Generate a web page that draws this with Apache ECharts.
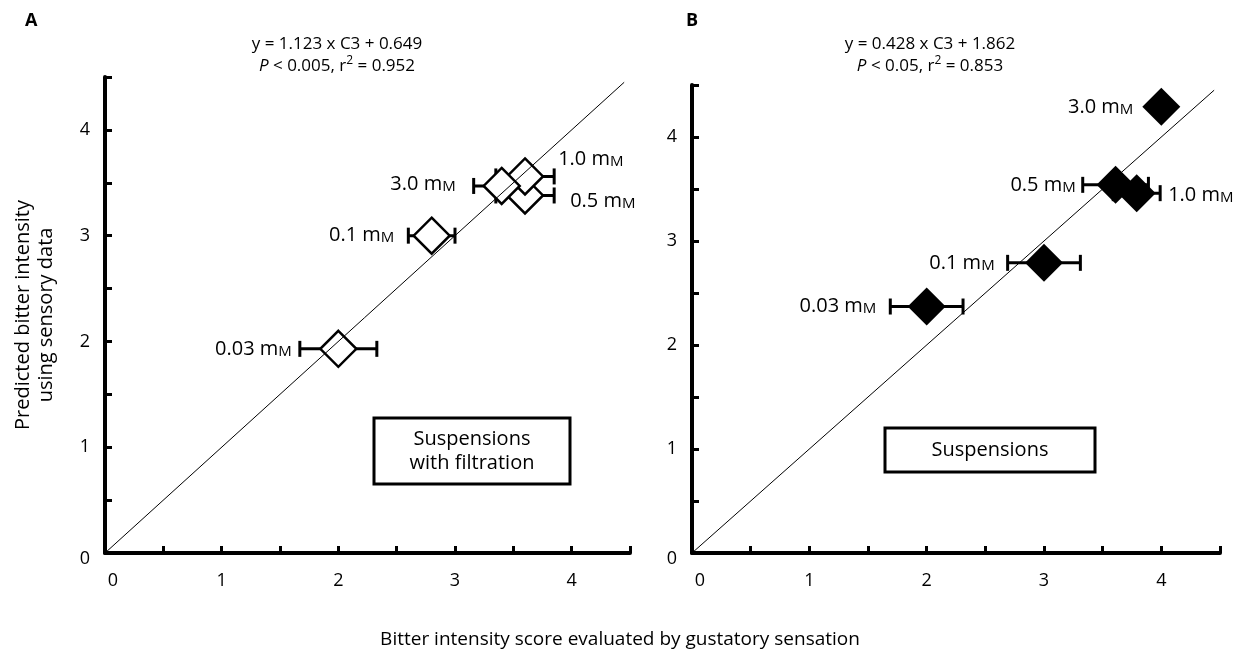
<!DOCTYPE html>
<html>
<head>
<meta charset="utf-8">
<script src="https://cdn.jsdelivr.net/npm/echarts@6.0.0/dist/echarts.min.js"></script>
<style>
  html, body { margin: 0; padding: 0; background: #fff; }
  #main { width: 1238px; height: 651px; }
</style>
</head>
<body>
<div id="main"></div>
<script>
// concentrations (labels of the points)
var concLabels = ['0.03', '0.1', '0.5', '1.0', '3.0'];

// panel A: suspensions with filtration (open diamonds)
var filtX = [2.0, 2.8, 3.6, 3.6, 3.4];
var filtY = [1.93, 3.0, 3.38, 3.56, 3.47];
var filtErr = [0.33, 0.2, 0.25, 0.25, 0.24];

// panel B: suspensions (filled diamonds)
var suspX = [2.0, 3.0, 3.61, 3.79, 4.0];
var suspY = [2.37, 2.79, 3.54, 3.46, 4.29];
var suspErr = [0.31, 0.31, 0.28, 0.2, 0];

// y = x reference line
var refLine = [0, 4.45];
var tickLabels = [0, 1, 2, 3, 4];

var FONT = '"Open Sans", "Noto Sans", sans-serif';

// where each point label sits (side of the error bar, gap, shift)
var placeA = [
  { side: 'left', gap: 8, dy: 0 },
  { side: 'left', gap: 14, dy: 0 },
  { side: 'right', gap: 16, dy: 6 },
  { side: 'right', gap: 4, dy: -17 },
  { side: 'left', gap: 18, dy: -2 }
];
var placeB = [
  { side: 'left', gap: 14, dy: 0 },
  { side: 'left', gap: 13, dy: 0 },
  { side: 'left', gap: 7, dy: 0 },
  { side: 'right', gap: 8, dy: 2 },
  { side: 'left', gap: 28, dy: 0 }
];

var chartDom = document.getElementById('main');
var myChart = echarts.init(chartDom);

function makeAxis(idx, isX) {
  return {
    gridIndex: idx,
    type: 'value',
    min: 0,
    max: 4.5,
    interval: 0.5,
    axisLine: { lineStyle: { color: '#000', width: 4 } },
    axisTick: { inside: true, length: 7, lineStyle: { color: '#000', width: 3 } },
    splitLine: { show: false },
    axisLabel: {
      color: '#000',
      fontSize: 18,
      fontFamily: FONT,
      margin: isX ? 19 : 15,
      formatter: function (v) {
        if (tickLabels.indexOf(v) < 0) return '';
        return v === 0 ? '{z|0}' : String(v);
      },
      rich: {
        // the zero labels sit a bit off the corner
        z: isX ? { fontSize: 18, fontFamily: FONT, color: '#000', padding: [0, 0, 0, 16] }
               : { fontSize: 18, fontFamily: FONT, color: '#000', padding: [12, 0, 0, 0] }
      }
    }
  };
}

function errRender(params, api) {
  var x = api.value(0), y = api.value(1), e = api.value(2);
  if (!e) return null;
  var l = api.coord([x - e, y]);
  var r = api.coord([x + e, y]);
  var h = 8;
  var st = { stroke: '#000', lineWidth: 3 };
  return {
    type: 'group',
    children: [
      { type: 'line', shape: { x1: l[0], y1: l[1], x2: r[0], y2: r[1] }, style: st },
      { type: 'line', shape: { x1: l[0], y1: l[1] - h, x2: l[0], y2: l[1] + h }, style: st },
      { type: 'line', shape: { x1: r[0], y1: r[1] - h, x2: r[0], y2: r[1] + h }, style: st }
    ]
  };
}

function labelRender(place) {
  return function (params, api) {
    var i = params.dataIndex;
    var x = api.value(0), y = api.value(1), e = api.value(2);
    var p = place[i];
    var ax = p.side === 'left' ? x - e : x + e;
    var pt = api.coord([ax, y]);
    return {
      type: 'text',
      x: p.side === 'left' ? pt[0] - p.gap : pt[0] + p.gap,
      y: pt[1] + p.dy,
      style: {
        text: concLabels[i] + ' m{s|M}',
        fill: '#000',
        font: '20px ' + FONT,
        align: p.side === 'left' ? 'right' : 'left',
        verticalAlign: 'middle',
        rich: { s: { fontSize: 15, fontFamily: FONT, fill: '#000', verticalAlign: 'bottom' } }
      }
    };
  };
}

function zip3(a, b, c) {
  return a.map(function (v, i) { return [v, b[i], c[i]]; });
}

var dataA = zip3(filtX, filtY, filtErr);
var dataB = zip3(suspX, suspY, suspErr);

var option = {
  animation: false,
  grid: [
    { left: 105, top: 77, width: 525, height: 476 },
    { left: 692, top: 85, width: 528, height: 468 }
  ],
  xAxis: [makeAxis(0, true), makeAxis(1, true)],
  yAxis: [makeAxis(0, false), makeAxis(1, false)],
  series: [
    {
      type: 'custom', xAxisIndex: 0, yAxisIndex: 0, z: 1,
      renderItem: errRender, data: dataA, silent: true
    },
    {
      type: 'scatter', xAxisIndex: 0, yAxisIndex: 0, z: 2,
      symbol: 'diamond', symbolSize: 36,
      itemStyle: { color: '#fff', borderColor: '#000', borderWidth: 2.5, opacity: 1 },
      data: dataA.map(function (d) { return [d[0], d[1]]; }), silent: true
    },
    {
      type: 'line', xAxisIndex: 0, yAxisIndex: 0, z: 3,
      symbol: 'none', lineStyle: { color: '#000', width: 1 },
      data: refLine.map(function (v) { return [v, v]; }), silent: true
    },
    {
      type: 'custom', xAxisIndex: 0, yAxisIndex: 0, z: 4,
      renderItem: labelRender(placeA), data: dataA, silent: true
    },
    {
      type: 'custom', xAxisIndex: 1, yAxisIndex: 1, z: 1,
      renderItem: errRender, data: dataB, silent: true
    },
    {
      type: 'scatter', xAxisIndex: 1, yAxisIndex: 1, z: 2,
      symbol: 'diamond', symbolSize: 38,
      itemStyle: { color: '#000', opacity: 1 },
      data: dataB.map(function (d) { return [d[0], d[1]]; }), silent: true
    },
    {
      type: 'line', xAxisIndex: 1, yAxisIndex: 1, z: 3,
      symbol: 'none', lineStyle: { color: '#000', width: 1 },
      data: refLine.map(function (v) { return [v, v]; }), silent: true
    },
    {
      type: 'custom', xAxisIndex: 1, yAxisIndex: 1, z: 4,
      renderItem: labelRender(placeB), data: dataB, silent: true
    }
  ],
  graphic: [
    { type: 'text', left: 25, top: 12, style: { text: 'A', font: 'bold 18px ' + FONT, fill: '#000' } },
    { type: 'text', left: 686, top: 12, style: { text: 'B', font: 'bold 18px ' + FONT, fill: '#000' } },
    {
      type: 'text', x: 337, y: 33,
      style: {
        text: 'y = 1.123 x C3 + 0.649\n{i|P} < 0.005, r{sup|2} = 0.952',
        font: '17px ' + FONT, fill: '#000', align: 'center', lineHeight: 22,
        rich: {
          i: { fontStyle: 'italic', fontSize: 17, fontFamily: FONT },
          sup: { fontSize: 12, fontFamily: FONT, verticalAlign: 'top' }
        }
      }
    },
    {
      type: 'text', x: 930, y: 33,
      style: {
        text: 'y = 0.428 x C3 + 1.862\n{i|P} < 0.05, r{sup|2} = 0.853',
        font: '17px ' + FONT, fill: '#000', align: 'center', lineHeight: 22,
        rich: {
          i: { fontStyle: 'italic', fontSize: 17, fontFamily: FONT },
          sup: { fontSize: 12, fontFamily: FONT, verticalAlign: 'top' }
        }
      }
    },
    {
      type: 'rect', shape: { x: 374, y: 418, width: 196, height: 66 },
      style: { fill: '#fff', stroke: '#000', lineWidth: 3 }, z: 10
    },
    {
      type: 'text', x: 472, y: 451, z: 11,
      style: {
        text: 'Suspensions\nwith filtration', font: '20px ' + FONT, fill: '#000',
        align: 'center', verticalAlign: 'middle', lineHeight: 24
      }
    },
    {
      type: 'rect', shape: { x: 885, y: 428, width: 210, height: 44 },
      style: { fill: '#fff', stroke: '#000', lineWidth: 3 }, z: 10
    },
    {
      type: 'text', x: 990, y: 450, z: 11,
      style: { text: 'Suspensions', font: '20px ' + FONT, fill: '#000', align: 'center', verticalAlign: 'middle' }
    },
    {
      type: 'text', x: 35, y: 315, rotation: Math.PI / 2,
      style: {
        text: 'Predicted bitter intensity\nusing sensory data', font: '20px ' + FONT, fill: '#000',
        align: 'center', verticalAlign: 'middle', lineHeight: 23
      }
    },
    {
      type: 'text', x: 620, y: 640,
      style: {
        text: 'Bitter intensity score evaluated by gustatory sensation', font: '19px ' + FONT, fill: '#000',
        align: 'center', verticalAlign: 'middle'
      }
    }
  ]
};

option && myChart.setOption(option);
</script>
</body>
</html>
